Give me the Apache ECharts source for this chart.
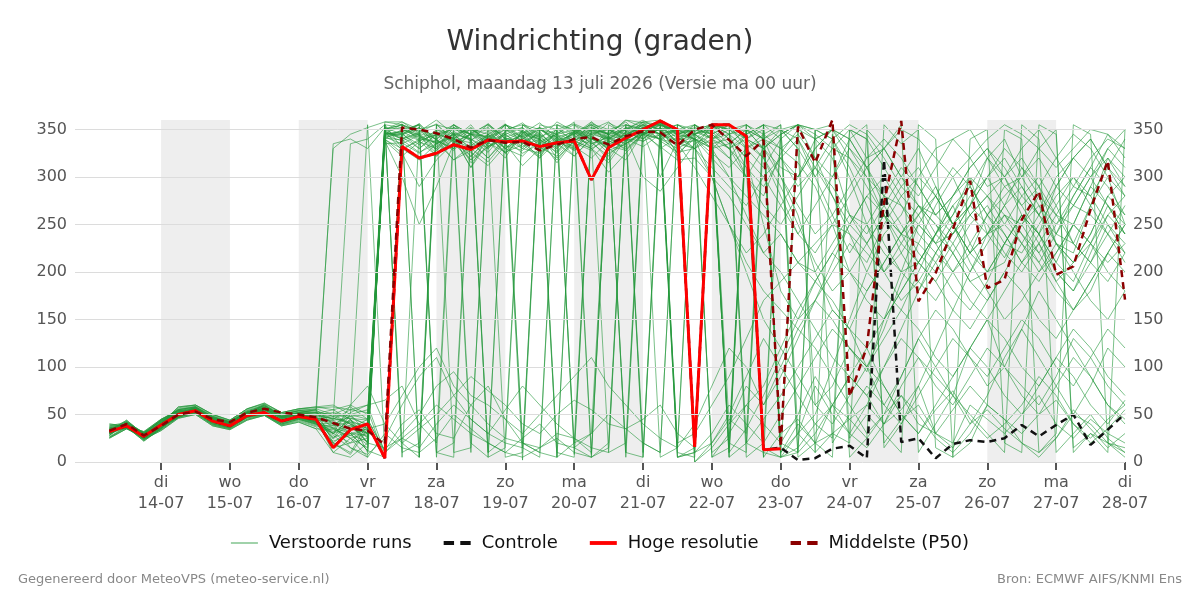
<!DOCTYPE html>
<html>
<head>
<meta charset="utf-8">
<title>Windrichting (graden)</title>
<script src="https://cdn.jsdelivr.net/npm/echarts@6.0.0/dist/echarts.min.js"></script>
<style>
  html, body { margin: 0; padding: 0; background: #fff; }
  #chart { width: 1200px; height: 600px; }
</style>
</head>
<body>
<div id="chart"></div>
<script>
// uren na ma 13-07 00:00, elke 6 uur
var hours = [6,12,18,24,30,36,42,48,54,60,66,72,78,84,90,96,102,108,114,120,
  126,132,138,144,150,156,162,168,174,180,186,192,198,204,210,216,222,228,234,240,
  246,252,258,264,270,276,282,288,294,300,306,312,318,324,330,336,342,348,354,360];

// daglabels (middernacht)
var dayHours = [24,48,72,96,120,144,168,192,216,240,264,288,312,336,360];
var dayNames = ['di','wo','do','vr','za','zo','ma','di','wo','do','vr','za','zo','ma','di'];
var dayDates = ['14-07','15-07','16-07','17-07','18-07','19-07','20-07','21-07','22-07','23-07','24-07','25-07','26-07','27-07','28-07'];
// grijze dagen (14, 16, 18 ... 26 juli)
var shadedDays = [24,72,120,168,216,264,312];

var yTicks = [0,50,100,150,200,250,300,350];

// hoge resolutie (tot 23-07)
var hres = [32,38,27,39,50,54,43,38,49,52,43,48,45,15,34,40,4,332,320,325,334,329,339,337,338,332,336,338,297,331,341,350,359,350,16,355,355,343,13,14];

// controle run
var controle = [32,38,27,39,50,54,43,38,49,52,43,48,45,15,34,40,4,332,320,325,334,329,339,337,338,332,336,338,297,331,341,350,359,350,16,355,355,343,13,
  15,2,4,14,17,4,318,21,25,4,19,23,21,25,39,27,39,50,18,34,51];

// mediaan
var p50 = [33,40,28,38,50,53,45,42,52,56,52,50,47,41,35,33,18,
  352,350,346,340,331,339,336,337,328,334,340,342,334,343,348,347,333,
  350,355,339,322,339,16,353,315,360,69,121,273,359,169,199,245,296,183,192,255,285,197,206,266,317,171];

// verstoorde runs
var members = [
  [30,40,28,42,52,56,45,40,50,55,46,50,48, 335,340,330,352, 345,352,328,347,321,342,356,335,348,327,345,358,340,350,337,352,325, 20,355,345,310,5,350,330,60,80,120,95,150,200,250,230,260,300,240,215,250,280,230,220,270,300,250],
  [35,36,25,36,48,52,40,36,47,50,40,45,40, 20,35,45,12, 40,55,30,25,60,80,45,20,15,30,25,10,350,340,355,345,5, 10,20,45,30,355,340,10,30,60,45,25,50,70,40,30,55,80,60,45,30,50,65,40,20,35,55],
  [28,42,30,44,55,58,48,42,53,58,50,54,52, 40,30,35,345, 356,338,345,330,352,337,320,350,332,346,355,338,318,344,358,342,350, 348,340,330,300,280,325,350,340,320,260,240,270,300,330,290,250,220,240,270,310,290,240,230,270,320,300],
  [36,39,24,33,46,50,38,34,44,49,38,42,35, 10,25,5,350, 355,5,350,345,10,355,340,2,350,355,8,350,345,5,352,358,10, 5,350,15,355,340,20,10,350,355,25,50,30,10,355,340,5,20,60,350,340,10,30,355,345,20,10],
  [33,44,29,40,58,60,50,44,56,62,52,56,58, 55,60,50,355, 330,318,335,342,310,345,330,322,340,315,338,330,305,325,345,332,318, 320,300,280,250,220,240,210,200,230,260,250,220,200,210,240,270,230,200,210,250,270,230,210,230,260,280],
  [25,35,26,38,47,55,42,37,48,53,44,47,42, 15,20,40,340, 350,344,322,340,355,332,347,338,320,352,336,328,346,358,340,355,347, 340,325,310,330,345,355,5,20,30,45,60,40,80,110,90,70,120,150,100,80,60,90,130,110,80,60],
  [40,38,32,45,54,53,46,42,52,56,48,52,55, 330,345,352,358, 358,346,340,355,345,330,348,357,342,330,347,355,344,360,352,345,335, 330,345,355,20,10,5,30,50,100,150,200,240,260,300,280,250,270,320,300,260,240,290,320,340,310,280],
  [31,37,22,35,50,57,44,39,51,60,47,50,46, 25,50,30,355, 10,20,355,350,345,5,15,355,350,340,20,30,355,345,10,355,5, 15,340,10,355,5,30,45,20,60,90,70,40,55,80,30,20,60,45,30,50,70,40,25,45,30,20],
  [28,41,26,40,53,55,47,41,52,56,45,49,44, 30,45,25,335, 336,325,340,318,328,345,335,312,330,342,322,340,330,318,347,300,338, 350,355,340,320,250,180,150,170,200,230,210,250,280,260,230,200,220,260,290,270,240,210,250,290,330,310],
  [34,35,28,37,49,53,41,37,48,51,42,47,43, 50,40,20,345, 348,355,332,346,340,326,348,352,336,345,330,350,358,342,356,350,325, 340,330,335,350,340,300,260,200,160,140,180,210,240,270,250,220,190,200,230,260,240,200,180,220,260,240],
  [30,39,31,43,51,57,46,40,51,57,48,52,50, 45,55,60,10, 30,50,80,95,70,60,45,30,50,70,90,110,80,60,40,25,15, 355,340,345,350,330,310,300,340,350,320,290,260,240,230,270,300,260,240,250,280,300,270,230,210,240,270],
  [35,37,25,34,47,51,39,35,45,50,39,44,38, 35,25,15,350, 340,346,330,352,338,320,342,348,325,338,350,343,330,347,340,357,346, 352,348,330,340,355,10,30,80,50,30,60,100,140,180,220,200,170,150,180,210,230,190,160,180,220,250],
  [32,43,28,41,56,59,49,43,55,60,51,55,55, 20,10,40,5, 350,355,5,345,340,10,350,355,340,5,20,352,345,10,5,355,350, 340,10,25,350,15,5,355,320,300,340,355,15,40,80,120,160,200,240,260,230,200,220,250,290,270,240],
  [26,36,27,37,48,54,42,38,47,52,43,46,41, 40,35,30,340, 325,290,318,336,326,312,333,328,345,320,338,330,315,340,332,345,322, 345,335,340,320,300,270,240,220,250,280,310,330,300,270,240,260,290,320,340,300,270,250,280,310,345,320],
  [38,39,30,44,53,54,45,41,51,55,47,51,52, 45,335,340,355, 352,340,348,336,345,356,340,330,350,342,336,358,345,350,360,348,355, 0,15,40,80,60,100,140,120,90,60,30,50,90,130,160,140,110,80,100,140,180,150,120,90,60,40],
  [30,36,23,36,49,56,43,40,50,58,46,49,45, 10,5,20,15, 25,40,60,45,30,20,10,25,40,20,15,30,50,35,20,10,355, 345,330,20,10,355,5,15,40,25,350,340,20,45,60,30,15,40,55,35,20,10,25,50,40,20,15],
  [33,38,29,41,51,55,44,39,50,53,44,49,47, 42,38,36,348, 342,330,345,338,322,339,350,342,327,336,346,340,332,348,344,355,336, 338,350,355,340,330,350,340,310,280,250,230,260,290,310,280,250,270,300,330,310,280,260,290,320,340,330],
  [36,38,26,38,50,53,42,37,49,52,41,46,41, 30,20,25,345, 347,356,339,330,345,342,326,349,335,350,344,332,348,339,353,345,20, 30,60,90,130,170,190,210,230,250,240,220,200,230,260,280,250,220,240,270,290,260,230,210,240,280,300],
  [29,40,29,42,54,57,47,42,52,57,49,53,51, 55,45,10,355, 5,350,355,10,15,350,345,20,10,355,350,5,15,350,355,345,5, 10,355,350,5,20,345,355,10,30,20,350,330,300,280,310,340,350,320,290,300,330,350,10,30,20,5],
  [34,36,27,35,48,52,40,36,46,50,40,45,39, 38,42,20,342, 335,344,325,342,318,338,345,332,340,326,348,336,322,343,300,285,310, 335,345,330,310,290,320,300,330,350,340,310,280,250,220,200,230,260,280,300,320,290,260,230,210,190,220],
  [31,42,27,40,55,58,48,42,54,59,50,54,54, 48,50,45,350, 355,348,360,345,350,340,355,347,340,358,348,352,345,360,357,354,350, 355,340,320,300,330,345,355,350,340,300,250,200,170,190,220,250,210,180,150,170,200,230,200,170,150,180],
  [27,37,25,39,49,55,43,39,48,53,44,48,43, 28,15,8,25, 60,90,110,70,45,30,20,15,5,355,345,350,340,335,345,350,355, 350,345,40,60,80,120,160,190,220,200,180,210,240,270,250,230,200,230,260,250,220,190,210,240,280,260],
  [37,40,31,43,52,55,46,42,53,56,49,52,50, 52,48,50,338, 322,337,330,345,315,332,340,325,335,318,339,345,328,335,348,330,342, 345,350,335,350,340,330,345,320,280,240,200,180,160,200,240,280,300,280,250,230,260,300,320,300,270,240],
  [31,37,24,36,50,56,44,39,51,59,47,50,46, 18,30,12,5, 355,345,10,20,350,340,5,10,355,350,15,5,350,345,20,10,355, 345,5,15,340,350,10,40,20,5,350,320,330,355,10,40,70,50,30,10,355,340,10,30,50,25,10],
  [34,39,28,39,50,53,43,38,49,52,44,48,46, 44,46,40,346, 345,334,350,340,330,344,325,343,352,337,330,346,350,338,345,358,334, 350,355,345,330,340,350,355,345,330,320,300,280,270,250,230,240,260,280,260,240,220,250,270,260,240,220],
  [33,37,27,38,49,54,42,38,48,51,42,47,42, 26,32,18,352, 350,342,336,355,339,348,330,346,357,341,335,349,341,352,346,358,347, 10,30,60,40,20,50,80,110,140,120,100,130,160,140,110,90,120,150,130,100,80,110,140,120,90,70],
  [30,41,30,43,53,57,47,41,52,56,48,52,50, 48,40,30,344, 338,345,328,343,352,332,341,336,322,342,347,330,340,344,355,338,326, 330,310,290,270,300,320,340,300,260,220,250,280,310,290,260,240,270,300,320,290,260,240,270,300,320,290],
  [35,38,26,34,47,51,39,35,45,49,39,43,37, 22,28,35,40, 70,100,120,80,60,40,25,20,10,5,355,345,350,340,338,345,350, 340,320,300,260,220,200,170,140,110,90,70,100,130,110,80,60,90,120,100,70,50,80,110,90,60,45],
  [32,43,30,41,57,60,50,44,56,61,52,56,57, 58,55,52,345, 344,352,339,328,346,355,336,344,330,348,340,355,334,345,352,357,340, 340,335,320,345,355,5,10,350,340,310,270,230,200,180,210,240,270,250,220,200,230,260,250,230,210,230],
  [26,35,26,37,47,54,41,37,47,52,43,47,42, 36,30,28,348, 328,340,337,318,333,345,325,341,331,322,340,335,342,328,345,350,332, 345,330,300,280,260,240,210,190,220,250,280,260,230,210,240,270,290,260,230,220,250,280,300,270,240,210],
  [39,38,31,44,54,53,46,42,52,55,48,51,53, 35,50,55,5, 345,355,10,5,350,345,355,15,350,345,358,8,350,355,5,345,350, 0,20,50,90,130,100,70,40,60,90,120,80,50,30,55,75,45,25,40,60,90,70,40,25,45,60],
  [32,38,23,35,51,58,45,40,52,61,48,51,47, 30,36,26,343, 346,330,345,340,336,320,339,347,334,344,328,347,338,332,350,356,344, 355,345,330,345,355,350,330,300,330,350,340,310,280,300,330,340,320,290,300,330,350,320,290,280,310,340],
  [30,40,28,42,52,56,45,40,50,55,46,50,48, 46,42,38,350, 358,350,343,352,345,338,355,348,342,350,356,348,340,351,358,360,348, 345,355,350,335,320,280,240,270,300,330,300,260,220,190,170,200,230,260,240,210,190,220,250,230,200,180],
  [35,36,25,36,48,52,40,36,47,50,40,45,40, 30,60,80,40, 20,35,50,70,90,75,60,40,30,50,65,55,40,35,45,60,30, 15,340,355,20,45,70,100,130,160,140,120,150,180,210,190,160,140,170,200,180,150,130,160,190,220,200],
  [28,42,30,44,55,58,48,42,53,58,50,54,52, 50,46,44,347, 340,347,356,337,345,343,330,346,352,335,348,342,357,348,340,352,338, 345,352,355,330,310,340,355,350,20,50,80,60,40,70,100,130,110,90,120,150,130,100,80,110,140,120],
  [36,39,24,33,46,50,38,34,44,49,38,42,35, 34,28,22,339, 330,338,322,341,310,336,326,334,320,338,328,342,325,335,347,340,330, 340,330,345,355,340,320,290,310,340,355,345,320,290,270,260,280,310,330,310,280,260,290,320,340,310,290],
  [33,44,29,40,58,60,50,44,56,62,52,56,58, 60,50,355,10, 355,5,345,350,20,5,355,340,350,10,5,355,345,10,350,5,15, 355,345,5,20,340,355,30,10,345,5,25,355,335,350,15,5,340,350,20,10,355,345,15,30,10,350],
  [25,35,26,38,47,55,42,37,48,53,44,47,42, 32,38,30,341, 339,326,335,345,330,316,338,343,329,335,322,341,333,328,346,350,337, 330,340,350,355,345,330,315,290,250,200,170,150,180,210,240,220,190,170,200,230,210,180,160,190,220,250],
  [40,38,32,45,54,53,46,42,52,56,48,52,55, 40,15,5,30, 15,10,25,50,35,20,10,5,15,25,10,5,20,355,350,340,345, 330,300,250,200,150,120,90,60,40,70,100,80,50,30,60,90,120,100,70,50,80,110,90,60,40,65],
  [31,37,22,35,50,57,44,39,51,60,47,50,46, 24,44,35,348, 352,344,335,348,338,356,341,335,346,330,350,345,340,352,346,357,345, 340,355,5,350,330,345,355,340,350,330,310,330,350,340,320,300,320,340,355,345,330,310,330,350,345,330],
  [34,41,27,39,52,55,44,40,50,54,45,49,46, 38,52,60,65, 80,40,20,355,345,350,330,340,352,345,338,350,342,335,348,355,15, 40,80,120,100,60,90,130,170,150,120,100,140,190,230,210,180,160,190,230,260,240,210,190,230,270,250],
  [29,38,30,40,50,57,45,39,49,55,44,47,43, 44,30,12,348, 340,352,335,345,330,342,350,338,345,332,348,340,336,350,345,352,342, 330,355,340,300,270,250,280,310,290,260,230,200,220,250,280,310,290,260,280,300,320,290,270,300,330,350],
  [37,37,26,37,49,52,41,36,47,51,41,46,44, 20,8,35,358, 355,348,340,352,345,335,355,342,350,338,345,356,350,342,358,355,345, 350,340,10,35,70,110,150,190,170,140,100,60,90,130,100,70,40,70,110,140,110,80,50,80,120,100],
  [32,40,29,43,54,57,46,41,52,57,47,51,49, 46,40,30,352, 20,5,355,340,350,10,25,355,345,5,350,340,10,20,355,350,345, 340,300,250,220,240,270,300,330,350,340,310,270,240,260,290,250,220,200,230,260,230,200,180,210,250,220],
  [26,37,24,38,48,54,43,38,48,52,43,48,41, 30,45,20,338, 300,250,290,335,318,332,345,330,325,340,332,320,338,330,345,340,335, 310,280,250,210,180,160,140,170,210,250,280,300,270,240,220,250,280,300,270,240,210,240,280,310,290,260],
  [38,42,31,45,55,58,47,43,54,59,50,54,56, 50,58,45,10, 25,15,40,60,45,30,55,80,60,40,25,15,10,355,345,340,350, 345,355,350,340,320,290,250,210,180,200,230,260,240,210,190,220,250,270,240,210,240,270,300,280,250,230],
  [33,36,28,36,47,53,42,37,48,50,42,46,40, 36,25,30,345, 348,338,345,355,340,330,345,352,338,345,350,335,342,355,350,345,338, 355,5,30,60,40,20,50,90,60,30,15,40,70,50,25,10,30,60,45,20,5,25,55,35,15,30],
  [31,39,27,41,51,56,45,40,51,55,46,50,47, 40,48,38,342, 345,356,338,330,347,352,335,345,340,325,342,350,345,338,352,358,345, 350,345,355,340,330,300,270,240,260,290,320,340,320,290,260,280,310,330,300,270,290,320,345,330,300,280]
];

function pairs(vals) {
  var out = [];
  for (var i = 0; i < vals.length; i++) out.push([hours[i], vals[i]]);
  return out;
}

var FONT = 'DejaVu Sans';
var GREEN = '#23973b';
var chart = echarts.init(document.getElementById('chart'), null, { renderer: 'canvas' });

var series = [];
// achtergrond: grijze dagen
series.push({
  type: 'line', data: [], silent: true, z: 0,
  markArea: {
    silent: true,
    itemStyle: { color: '#eeeeee' },
    data: shadedDays.map(function (h) { return [{ xAxis: h }, { xAxis: h + 24 }]; })
  }
});
// rasterlijnen
series.push({
  type: 'line', data: [], silent: true, z: 1,
  markLine: {
    silent: true, symbol: ['none', 'none'], animation: false,
    label: { show: false },
    lineStyle: { color: '#dcdcdc', type: 'solid', width: 1 },
    data: yTicks.map(function (v) { return { yAxis: v }; })
  }
});

members.forEach(function (m) {
  series.push({
    name: 'Verstoorde runs', type: 'line', data: pairs(m),
    symbol: 'none', z: 2,
    lineStyle: { color: GREEN, width: 1, opacity: 0.6 },
    itemStyle: { color: GREEN, opacity: 0.6 }
  });
});

series.push({
  name: 'Controle', type: 'line', data: pairs(controle), symbol: 'none', z: 3,
  lineStyle: { color: '#111111', width: 2.5, type: [7, 5] },
  itemStyle: { color: '#111111' }
});
series.push({
  name: 'Hoge resolutie', type: 'line', data: pairs(hres), symbol: 'none', z: 4,
  lineStyle: { color: '#ff0000', width: 3 },
  itemStyle: { color: '#ff0000' }
});
series.push({
  name: 'Middelste (P50)', type: 'line', data: pairs(p50), symbol: 'none', z: 5,
  lineStyle: { color: '#8b0000', width: 2.5, type: [7, 5] },
  itemStyle: { color: '#8b0000' }
});

var yAxisBase = {
  type: 'value', min: 0, max: 360, interval: 50,
  axisLine: { show: false }, axisTick: { show: false }, splitLine: { show: false },
  axisLabel: { color: '#555', fontSize: 16, fontFamily: FONT, margin: 8, showMaxLabel: false }
};

var iconSolidThin = 'path://M0,0H28V1.5H0Z';
var iconSolid = 'path://M0,0H28V4H0Z';
var iconDash = 'path://M0,0H10V4H0Z M16,0H26V4H16Z';

chart.setOption({
  animation: false,
  backgroundColor: '#fff',
  title: {
    text: 'Windrichting (graden)',
    subtext: 'Schiphol, maandag 13 juli 2026 (Versie ma 00 uur)',
    left: 'center', top: 24, itemGap: 19,
    textStyle: { fontFamily: FONT, fontSize: 28, fontWeight: 'normal', color: '#333' },
    subtextStyle: { fontFamily: FONT, fontSize: 17, color: '#666' }
  },
  legend: {
    data: [
      { name: 'Verstoorde runs', icon: iconSolidThin },
      { name: 'Controle', icon: iconDash },
      { name: 'Hoge resolutie', icon: iconSolid },
      { name: 'Middelste (P50)', icon: iconDash }
    ],
    top: 529, left: 'center', itemWidth: 27, itemHeight: 12, itemGap: 32,
    textStyle: { fontFamily: FONT, fontSize: 18, color: '#111', padding: [0, 0, 0, 6] }
  },
  grid: { left: 75, right: 75, top: 120, bottom: 138 },
  xAxis: {
    type: 'value', min: -6, max: 360,
    axisLine: { show: false },
    splitLine: { show: false },
    axisTick: { show: true, customValues: dayHours, length: 8, lineStyle: { color: '#555', width: 2 } },
    axisLabel: {
      customValues: dayHours, color: '#555', fontSize: 16, fontFamily: FONT,
      lineHeight: 21, margin: 10,
      formatter: function (v) {
        var i = dayHours.indexOf(v);
        return i < 0 ? '' : dayNames[i] + '\n' + dayDates[i];
      }
    }
  },
  yAxis: [
    Object.assign({}, yAxisBase, { position: 'left' }),
    Object.assign({}, yAxisBase, { position: 'right' })
  ],
  graphic: [
    { type: 'text', left: 18, top: 573, style: { text: 'Gegenereerd door MeteoVPS (meteo-service.nl)', fill: '#888', font: '13px "DejaVu Sans"' } },
    { type: 'text', right: 18, top: 573, style: { text: 'Bron: ECMWF AIFS/KNMI Ens', fill: '#888', font: '13px "DejaVu Sans"' } }
  ],
  series: series
});
</script>
</body>
</html>
